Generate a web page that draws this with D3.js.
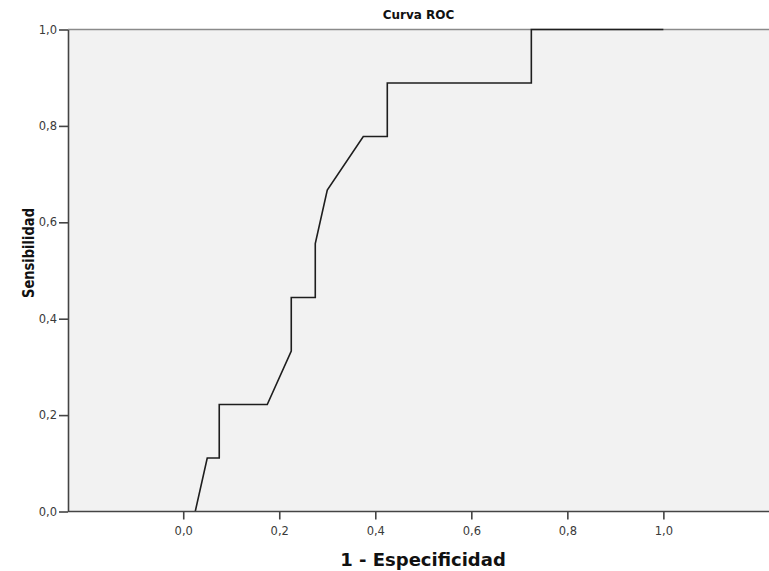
<!DOCTYPE html>
<html>
<head>
<meta charset="utf-8">
<script src="https://cdn.jsdelivr.net/npm/d3@7"></script>
<style>
  body { margin: 0; background: #fff; }
  svg { display: block; }
  .tick text { font-family: "DejaVu Sans", sans-serif; font-size: 11.5px; fill: #3a3a3a; }
</style>
</head>
<body>
<div id="chart-area"></div>
<script>
// ROC curve points (1 - especificidad, sensibilidad)
var fpr = [0.025, 0.05, 0.075, 0.075, 0.175, 0.225, 0.225, 0.275, 0.275, 0.3, 0.375, 0.425, 0.425, 0.725, 0.725, 1.0];
var tpr = [0, 0.111, 0.111, 0.222, 0.222, 0.333, 0.444, 0.444, 0.556, 0.667, 0.778, 0.778, 0.889, 0.889, 1.0, 1.0];

var xTicks = [0, 0.2, 0.4, 0.6, 0.8, 1.0];
var yTicks = [0, 0.2, 0.4, 0.6, 0.8, 1.0];

var W = 769, H = 571;
var margin = { left: 68, right: 0, top: 29.5, bottom: 59.5 };
var width = W - margin.left - margin.right;
var height = H - margin.top - margin.bottom;

var fmt = d => d3.format(".1f")(d).replace(".", ",");

var svg = d3.select("#chart-area")
    .append("svg")
    .attr("width", W)
    .attr("height", H);

var g = svg.append("g")
    .attr("transform", "translate(" + margin.left + ", " + margin.top + ")");

var x = d3.scaleLinear().domain([-0.24, 1.22]).range([0, width]);
var y = d3.scaleLinear().domain([0, 1]).range([height, 0]);

// plot background
g.append("rect")
    .attr("width", width + 2)
    .attr("height", height)
    .attr("fill", "#f2f2f2");

// top border
g.append("line")
    .attr("x1", 0).attr("x2", width + 2)
    .attr("y1", 0).attr("y2", 0)
    .attr("stroke", "#8a8a8a")
    .attr("stroke-width", 1.5);

// curve
var line = d3.line()
    .x(d => x(d[0]))
    .y(d => y(d[1]));

g.append("path")
    .datum(d3.zip(fpr, tpr))
    .attr("d", line)
    .attr("fill", "none")
    .attr("stroke", "#1e1e1e")
    .attr("stroke-width", 1.6);

// axes
var xAxis = g.append("g")
    .attr("transform", "translate(0, " + height + ")")
    .call(d3.axisBottom(x).tickValues(xTicks).tickFormat(fmt).tickSize(8).tickSizeOuter(0));

var yAxis = g.append("g")
    .call(d3.axisLeft(y).tickValues(yTicks).tickFormat(fmt).tickSize(9).tickSizeOuter(0));

xAxis.select(".domain").attr("stroke", "#444").attr("stroke-width", 1.6)
    .attr("d", "M0,0H" + (width + 2));
yAxis.select(".domain").attr("stroke", "#444").attr("stroke-width", 1.6);
svg.selectAll(".tick line").attr("stroke", "#444").attr("stroke-width", 1.6);
xAxis.selectAll(".tick text").attr("dy", "1.05em");
yAxis.selectAll(".tick text").attr("x", -11);

// title
svg.append("text")
    .attr("x", margin.left + width / 2)
    .attr("y", 19)
    .attr("text-anchor", "middle")
    .attr("font-family", "DejaVu Sans, sans-serif")
    .attr("font-weight", "bold")
    .attr("font-size", 12)
    .attr("fill", "#111")
    .text("Curva ROC");

// x label
svg.append("text")
    .attr("x", 423)
    .attr("y", 566)
    .attr("text-anchor", "middle")
    .attr("font-family", "DejaVu Sans, sans-serif")
    .attr("font-weight", "bold")
    .attr("font-size", 18)
    .attr("fill", "#111")
    .text("1 - Especificidad");

// y label
svg.append("text")
    .attr("transform", "translate(34, 253) rotate(-90)")
    .attr("text-anchor", "middle")
    .attr("font-family", "DejaVu Sans, sans-serif")
    .attr("font-weight", "bold")
    .attr("font-size", 15)
    .attr("textLength", 90)
    .attr("lengthAdjust", "spacingAndGlyphs")
    .attr("fill", "#111")
    .text("Sensibilidad");
</script>
</body>
</html>
